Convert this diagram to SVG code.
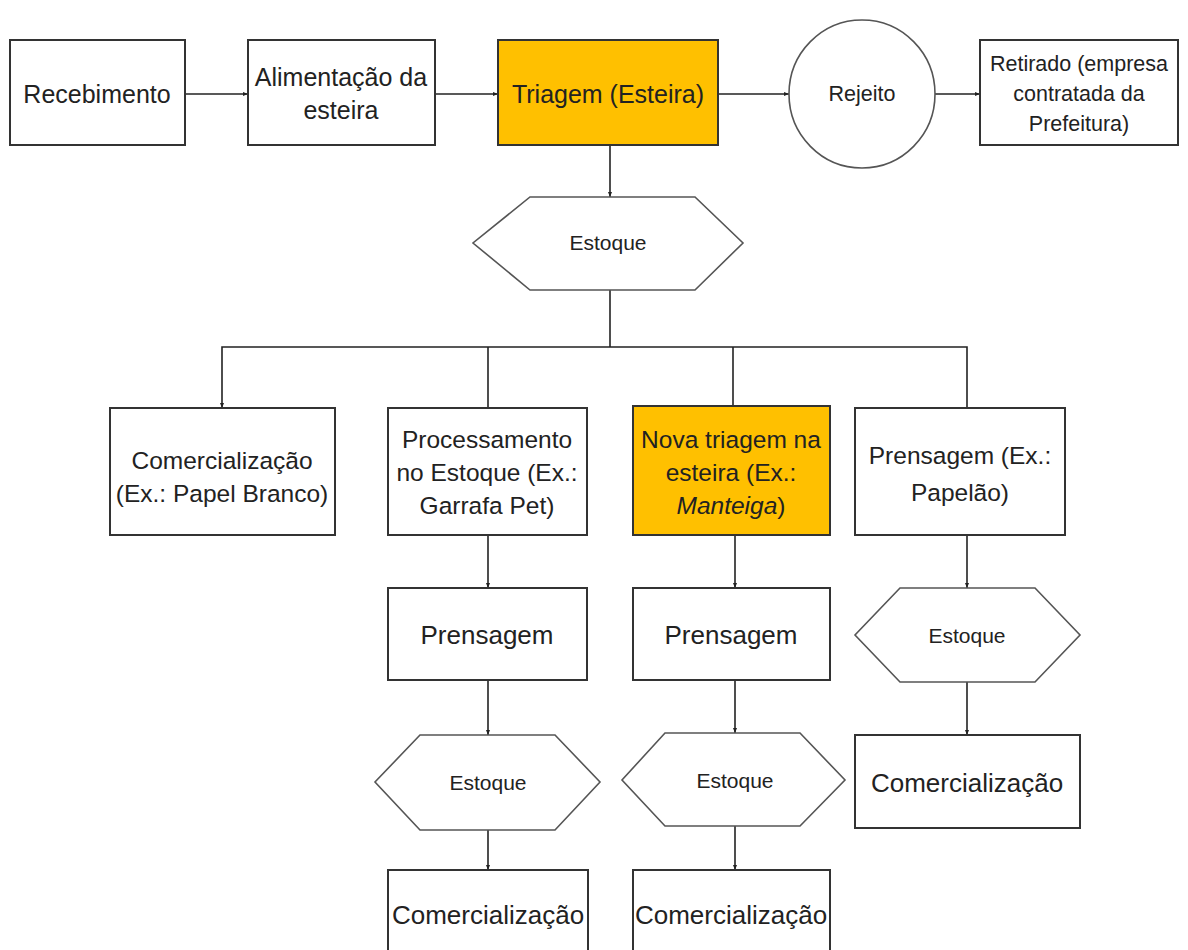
<svg xmlns="http://www.w3.org/2000/svg" width="1188" height="950" viewBox="0 0 1188 950">
<style>
.box{fill:#fff;stroke:#333;stroke-width:2}
.hl{fill:#FFC000;stroke:#333;stroke-width:2}
.hex{fill:#fff;stroke:#555;stroke-width:1.6}
.t{font-family:"Liberation Sans",Arial,sans-serif;fill:#222;text-anchor:middle}
.top{font-size:25px}
.l{font-size:26px}
.m{font-size:24.5px}
.s{font-size:21px}
.r{font-size:21.5px}
.c{stroke:#222;stroke-width:1.6;fill:none}
</style>
<defs>
<marker id="ah" viewBox="0 0 10 10" refX="10" refY="5" markerWidth="5" markerHeight="5" orient="auto" markerUnits="userSpaceOnUse">
<path d="M0,1 L10,5 L0,9 z" fill="#222"/>
</marker>
</defs>
<g id="connectors">
<line class="c" x1="185" y1="94" x2="248" y2="94" marker-end="url(#ah)"/>
<line class="c" x1="435" y1="94" x2="498" y2="94" marker-end="url(#ah)"/>
<line class="c" x1="718" y1="94" x2="789" y2="94" marker-end="url(#ah)"/>
<line class="c" x1="935" y1="94" x2="980" y2="94" marker-end="url(#ah)"/>
<line class="c" x1="610" y1="145" x2="610" y2="197" marker-end="url(#ah)"/>
<line class="c" x1="610" y1="290" x2="610" y2="347"/>
<polyline class="c" points="610,347 222,347 222,408" marker-end="url(#ah)"/>
<polyline class="c" points="610,347 967,347 967,408"/>
<line class="c" x1="488" y1="347" x2="488" y2="408"/>
<line class="c" x1="733" y1="347" x2="733" y2="406"/>
<line class="c" x1="488" y1="535" x2="488" y2="588" marker-end="url(#ah)"/>
<line class="c" x1="735" y1="535" x2="735" y2="588" marker-end="url(#ah)"/>
<line class="c" x1="967" y1="535" x2="967" y2="588" marker-end="url(#ah)"/>
<line class="c" x1="488" y1="680" x2="488" y2="735" marker-end="url(#ah)"/>
<line class="c" x1="735" y1="680" x2="735" y2="733" marker-end="url(#ah)"/>
<line class="c" x1="967" y1="682" x2="967" y2="735" marker-end="url(#ah)"/>
<line class="c" x1="488" y1="830" x2="488" y2="870" marker-end="url(#ah)"/>
<line class="c" x1="735" y1="826" x2="735" y2="870" marker-end="url(#ah)"/>
</g>
<g id="recebimento"><rect class="box" x="10" y="40" width="175" height="105"/><text class="t top" x="97" y="103">Recebimento</text></g>
<g id="alimentacao"><rect class="box" x="248" y="40" width="187" height="105"/><text class="t top" x="341" y="86">Alimentação da</text><text class="t top" x="341" y="119">esteira</text></g>
<g id="triagem"><rect class="hl" x="498" y="40" width="220" height="105"/><text class="t top" x="608" y="103">Triagem (Esteira)</text></g>
<g id="rejeito"><ellipse cx="862" cy="94" rx="73" ry="74" fill="#fff" stroke="#555" stroke-width="1.6"/><text class="t r" x="862" y="101">Rejeito</text></g>
<g id="retirado"><rect class="box" x="980" y="40" width="198" height="105"/><text class="t r" x="1079" y="71">Retirado (empresa</text><text class="t r" x="1079" y="101">contratada da</text><text class="t r" x="1079" y="131">Prefeitura)</text></g>
<g id="estoque0"><polygon class="hex" points="530,197 695,197 743,243 695,290 530,290 473,243"/><text class="t s" x="608" y="250">Estoque</text></g>
<g id="comerc1"><rect class="box" x="110" y="408" width="225" height="127"/><text class="t m" x="222" y="469">Comercialização</text><text class="t m" x="222" y="502">(Ex.: Papel Branco)</text></g>
<g id="processamento"><rect class="box" x="388" y="408" width="199" height="127"/><text class="t m" x="487" y="448">Processamento</text><text class="t m" x="487" y="481">no Estoque (Ex.:</text><text class="t m" x="487" y="514">Garrafa Pet)</text></g>
<g id="novatriagem"><rect class="hl" x="633" y="406" width="197" height="129"/><text class="t m" x="731" y="448">Nova triagem na</text><text class="t m" x="731" y="481">esteira (Ex.:</text><text class="t m" x="731" y="514"><tspan font-style="italic">Manteiga</tspan>)</text></g>
<g id="prensagem0"><rect class="box" x="855" y="408" width="210" height="127"/><text class="t m" x="960" y="464">Prensagem (Ex.:</text><text class="t m" x="960" y="501">Papelão)</text></g>
<g id="prensagem1"><rect class="box" x="388" y="588" width="199" height="92"/><text class="t l" x="487" y="644">Prensagem</text></g>
<g id="prensagem2"><rect class="box" x="633" y="588" width="197" height="92"/><text class="t l" x="731" y="644">Prensagem</text></g>
<g id="estoque3"><polygon class="hex" points="900,588 1035,588 1080,635 1035,682 900,682 855,635"/><text class="t s" x="967" y="643">Estoque</text></g>
<g id="estoque1"><polygon class="hex" points="420,735 555,735 600,782 555,830 420,830 375,782"/><text class="t s" x="488" y="790">Estoque</text></g>
<g id="estoque2"><polygon class="hex" points="665,733 800,733 845,780 800,826 665,826 622,780"/><text class="t s" x="735" y="788">Estoque</text></g>
<g id="comerc4"><rect class="box" x="855" y="735" width="225" height="93"/><text class="t l" x="967" y="792">Comercialização</text></g>
<g id="comerc2"><rect class="box" x="388" y="870" width="200" height="90"/><text class="t l" x="488" y="924">Comercialização</text></g>
<g id="comerc3"><rect class="box" x="633" y="870" width="197" height="90"/><text class="t l" x="731" y="924">Comercialização</text></g>
</svg>
